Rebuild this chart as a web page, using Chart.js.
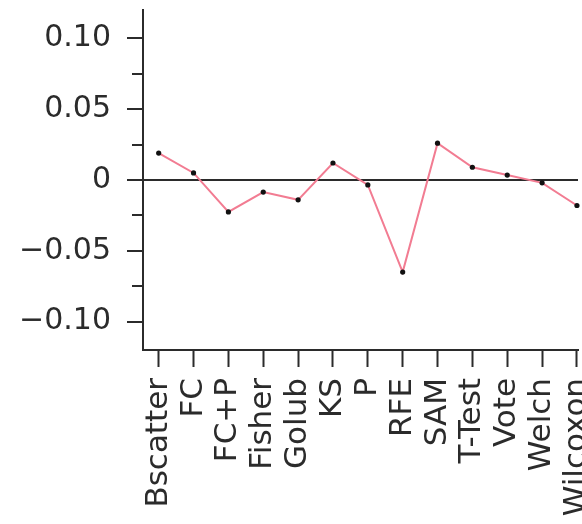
<!DOCTYPE html>
<html>
<head>
<meta charset="utf-8">
<script src="https://cdn.jsdelivr.net/npm/chart.js@4/dist/chart.umd.min.js"></script>
<style>
  html, body { margin: 0; padding: 0; background: #fff; overflow: hidden; }
  #wrap { width: 582px; height: 524px; }
</style>
</head>
<body>
<div id="wrap"><canvas id="chart" width="582" height="524"></canvas></div>
<script>
const methods = ["Bscatter", "FC", "FC+P", "Fisher", "Golub", "KS", "P", "RFE", "SAM", "T-Test", "Vote", "Welch", "Wilcoxon"];
const deltas = [0.019, 0.005, -0.0225, -0.0085, -0.014, 0.012, -0.0035, -0.065, 0.026, 0.009, 0.0035, -0.002, -0.018];
const yTickValues = [-0.1, -0.075, -0.05, -0.025, 0, 0.025, 0.05, 0.075, 0.1];
const yTickLabels = { "-0.1": "\u22120.10", "-0.05": "\u22120.05", "0": "0", "0.05": "0.05", "0.1": "0.10" };

const INK = "#2b2b2b";
const FONT = "DejaVu Sans";

function isMajor(value) {
  return yTickLabels[String(Math.round(value * 1000) / 1000)] !== undefined;
}

// shorter tick marks for the unlabeled y ticks
const minorTicks = {
  id: "minorTicks",
  afterDraw(chart) {
    const y = chart.scales.y;
    const left = chart.chartArea.left;
    const c = chart.ctx;
    c.save();
    c.strokeStyle = INK;
    c.lineWidth = 2;
    yTickValues.filter((v) => !isMajor(v)).forEach((v) => {
      const py = Math.round(y.getPixelForValue(v));
      c.beginPath();
      c.moveTo(left - 11, py);
      c.lineTo(left, py);
      c.stroke();
    });
    c.restore();
  },
};

new Chart(document.getElementById("chart"), {
  type: "line",
  data: {
    datasets: [
      {
        data: deltas.map((v, i) => ({ x: i, y: v })),
        borderColor: "#f27c92",
        borderWidth: 2,
        pointRadius: 2.6,
        pointBackgroundColor: "#111",
        pointBorderWidth: 0,
        tension: 0,
        clip: false,
      },
    ],
  },
  options: {
    responsive: false,
    animation: false,
    layout: { padding: { top: 10, right: 0, left: 0, bottom: 0 } },
    plugins: { legend: { display: false }, tooltip: { enabled: false } },
    scales: {
      x: {
        type: "linear",
        min: -0.45,
        max: 12.03,
        afterBuildTicks: (scale) => {
          scale.ticks = methods.map((_, i) => ({ value: i }));
        },
        afterFit: (scale) => {
          scale.height = 174;
          scale.paddingLeft = 0;
          scale.paddingRight = 0;
        },
        border: { display: true, color: INK, width: 2 },
        grid: { display: true, drawOnChartArea: false, tickLength: 17, tickColor: INK, tickWidth: 2 },
        ticks: {
          autoSkip: false,
          minRotation: 90,
          maxRotation: 90,
          padding: 11,
          color: INK,
          font: { family: FONT, size: 31 },
          callback: (value) => methods[value],
        },
      },
      y: {
        min: -0.12,
        max: 0.12,
        afterBuildTicks: (scale) => {
          scale.ticks = yTickValues.map((v) => ({ value: v }));
        },
        afterFit: (scale) => {
          scale.width = 143;
          scale.paddingTop = 0;
          scale.paddingBottom = 0;
        },
        border: { display: true, color: INK, width: 2 },
        grid: {
          drawOnChartArea: true,
          tickLength: 16,
          color: (ctx) => (ctx.tick && Math.abs(ctx.tick.value) < 1e-9 ? INK : "rgba(0,0,0,0)"),
          lineWidth: 2,
          tickColor: (ctx) => (ctx.tick && isMajor(ctx.tick.value) ? INK : "rgba(0,0,0,0)"),
          tickWidth: 2,
        },
        ticks: {
          padding: 16,
          color: INK,
          font: { family: FONT, size: 30 },
          callback: (value) => yTickLabels[String(Math.round(value * 1000) / 1000)] || "",
        },
      },
    },
  },
  plugins: [minorTicks],
});
</script>
</body>
</html>
